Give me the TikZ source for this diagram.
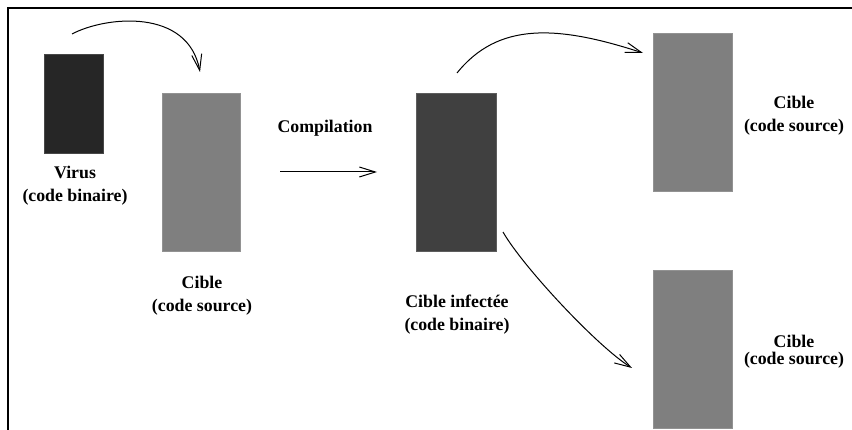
\documentclass[tikz,border=0pt]{standalone}
\usepackage{fontspec}
\setmainfont{Liberation Serif}
\usetikzlibrary{arrows.meta}

\definecolor{viruscol}{HTML}{262626}
\definecolor{infectcol}{HTML}{404040}
\definecolor{sourcecol}{HTML}{7F7F7F}

\begin{document}
\begin{tikzpicture}[x=1pt,y=-1pt,
  block/.style={draw=#1!85!white, line width=0.6pt, fill=#1, inner sep=0pt},
  caption/.style={align=center, inner sep=0pt, font=\fontsize{17.8}{23}\selectfont\bfseries},
  flow/.style={line width=1pt, -{Straight Barb[length=16pt,width=10pt,line width=1pt]}}
]
\useasboundingbox (0,0) rectangle (852,430);

% partial frame: top and left edges
\draw[line width=2pt] (852,8) -- (8,8) -- (8,430);

% code blocks
\node[block=viruscol,  minimum width=59pt, minimum height=99pt]  (virus)   at (73.5,103.5) {};
\node[block=sourcecol, minimum width=78pt, minimum height=158pt] (source)  at (201.5,172.5) {};
\node[block=infectcol, minimum width=80pt, minimum height=158pt] (infect)  at (456.7,172.5) {};
\node[block=sourcecol, minimum width=79pt, minimum height=158pt] (copyA)   at (692.3,112.8) {};
\node[block=sourcecol, minimum width=79pt, minimum height=158pt] (copyB)   at (692.3,349.2) {};

% captions
\node[caption] (virustxt)  at (75,186)   {Virus\\(code binaire)};
\node[caption] (sourcetxt) at (202,296)  {Cible\\(code source)};
\node[caption] (compiltxt) at (325,128)  {Compilation};
\node[caption] (infecttxt) at (457,315)  {Cible infectée\\(code binaire)};
\node[caption] (copyAtxt)  at (794,116)  {Cible\\(code source)};
\node[caption, font=\fontsize{17.8}{17}\selectfont\bfseries] (copyBtxt) at (794,352) {Cible\\(code source)};

% connector end points
\coordinate (v0) at (72,34);    \coordinate (v1) at (200,72);
\coordinate (c0) at (280,172);  \coordinate (c1) at (377,172);
\coordinate (a0) at (457,73);   \coordinate (a1) at (643,53);
\coordinate (b0) at (503,232);  \coordinate (b1) at (632,368);

% connectors
\draw[flow] (v0) .. controls (106,16) and (188,8) .. (v1);
\draw[flow] (c0) -- (c1);
\draw[flow] (a0) .. controls (498,22) and (557,25) .. (a1);
\draw[flow] (b0) .. controls (523,267) and (598,347) .. (b1);
\end{tikzpicture}
\end{document}
